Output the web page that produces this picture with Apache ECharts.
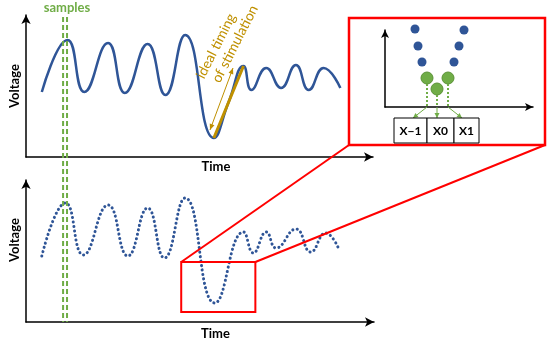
<!DOCTYPE html>
<html><head><meta charset="utf-8">
<script src="https://cdn.jsdelivr.net/npm/echarts@6/dist/echarts.min.js"></script>
<style>html,body{margin:0;padding:0;background:#fff}#c{width:550px;height:345px}</style>
</head><body><div id="c"></div>
<script>
// ---- DATA ----
// Top panel: continuous recorded signal (time units, voltage units)
const topTime    = [16, 42, 59, 83, 100, 123, 141, 161, 190, 205, 220, 228, 243, 258, 273, 286, 301, 318];
const topVoltage = [65, 117, 65, 114, 64, 113, 62, 122, 19, 55, 91, 67, 89, 69, 92, 67, 89, 69];
// Ideal stimulation window (rising edge after the big trough)
const stimTime    = [190, 205, 220];
const stimVoltage = [19, 55, 91];
// Bottom panel: sampled signal
const bottomTime    = [16, 40, 58, 83, 103, 123, 140, 161, 191, 220, 230, 243, 253, 273, 288, 303, 316];
const bottomVoltage = [66, 119, 67, 117, 66, 114, 64, 124, 19, 90, 69, 90, 74, 93, 70, 89, 74];
// Sampling instants (dashed green lines)
const sampleTimes = [37.5, 41.5];
// Zoom window on the bottom panel: [tStart, tEnd, vLow, vHigh]
const zoomWindow = [157, 232, 10, 60];
// Inset: samples around the trough
const insetBlueX  = [30, 33, 37, 79, 74, 69];
const insetBlueY  = [78, 61, 45, 77, 61, 45];
const insetGreenX = [42, 52, 63];
const insetGreenY = [29, 18, 29];
const binLabels   = ['X\u22121', 'X0', 'X1'];

// ---- STYLE ----
const BLUE = '#2F5597', GREEN = '#70AD47', GOLD = '#BF9000', RED = '#FF0000';
const FONT = 'Lato';
const zip = (a, b) => a.map((v, i) => [v, b[i]]);

function ax(gi, max, name, gap, pad, arrow) {
  return {
    gridIndex: gi, type: 'value', min: 0, max: max,
    name: name || '', nameLocation: 'middle', nameGap: gap || 0,
    nameTextStyle: {fontFamily: FONT, fontWeight: 'bold', fontSize: 13, color: '#000', padding: pad || 0},
    axisLine: {show: true, onZero: false, symbol: ['none', 'arrow'], symbolSize: arrow, lineStyle: {color: '#000', width: 1.5}},
    axisTick: {show: false}, axisLabel: {show: false}, splitLine: {show: false}
  };
}

const chart = echarts.init(document.getElementById('c'), null, {renderer: 'canvas'});
const option = {
  animation: false,
  backgroundColor: '#fff',
  grid: [
    {left: 22, top: 15, width: 351, height: 142},
    {left: 22, top: 180, width: 352, height: 142},
    {left: 385, top: 30, width: 148, height: 77}
  ],
  xAxis: [
    ax(0, 351, 'Time', 3, [0, 0, 0, 33], [7, 9]),
    ax(1, 352, 'Time', 5, [0, 0, 0, 31], [7, 9]),
    ax(2, 148, '', 0, 0, [6, 8])
  ],
  yAxis: [
    ax(0, 142, 'Voltage', 5, 0, [7, 9]),
    ax(1, 142, 'Voltage', 5, [0, 0, 0, 22], [7, 9]),
    ax(2, 77, '', 0, 0, [6, 8])
  ],
  series: [
    {type: 'line', xAxisIndex: 0, yAxisIndex: 0, data: zip(topTime, topVoltage), smooth: true,
     showSymbol: false, lineStyle: {color: BLUE, width: 2.5}, z: 2},
    {type: 'line', xAxisIndex: 0, yAxisIndex: 0, data: zip(stimTime, stimVoltage), smooth: true,
     showSymbol: false, lineStyle: {color: GOLD, width: 3}, z: 3},
    {type: 'line', xAxisIndex: 1, yAxisIndex: 1, data: zip(bottomTime, bottomVoltage), smooth: true,
     showSymbol: false, lineStyle: {color: BLUE, width: 3, type: [0.1, 4.4], cap: 'round'}, z: 2},
    {type: 'scatter', xAxisIndex: 2, yAxisIndex: 2, data: zip(insetBlueX, insetBlueY), clip: false,
     symbolSize: 9, itemStyle: {color: BLUE, opacity: 1}, z: 5},
    {type: 'scatter', xAxisIndex: 2, yAxisIndex: 2, data: zip(insetGreenX, insetGreenY), clip: false,
     symbolSize: 12, itemStyle: {color: GREEN, opacity: 1, borderColor: '#5B9237', borderWidth: 1}, z: 5}
  ]
};
chart.setOption(option);

// ---- ANNOTATIONS (positions derived from the axes where they refer to data) ----
const px = (gi, x, y) => chart.convertToPixel({gridIndex: gi}, [x, y]);
function arrowHead(x1, y1, x2, y2, len, w, color) {
  const a = Math.atan2(y2 - y1, x2 - x1);
  const bx = x2 - len * Math.cos(a), by = y2 - len * Math.sin(a);
  const nx = -Math.sin(a) * w / 2, ny = Math.cos(a) * w / 2;
  return {type: 'polygon', z: 100, shape: {points: [[x2, y2], [bx + nx, by + ny], [bx - nx, by - ny]]}, style: {fill: color}};
}
const line = (x1, y1, x2, y2, style) => ({type: 'line', z: 100, shape: {x1, y1, x2, y2}, style: Object.assign({fill: null}, style)});
const g = [];

// sample lines spanning both panels
sampleTimes.forEach(t => {
  const x = px(0, t, 0)[0];
  g.push(line(x, 17, x, 322, {stroke: GREEN, lineWidth: 2, lineDash: [5, 3]}));
});
g.push({type: 'text', z: 100, style: {text: 'samples', x: 67, y: 8, align: 'center', verticalAlign: 'middle',
  font: 'bold 13px ' + FONT, fill: GREEN}});

// gold double arrow + label
const ga = [210, 130, 233, 68];
g.push(line(ga[0], ga[1], ga[2], ga[3], {stroke: GOLD, lineWidth: 1}));
g.push(arrowHead(ga[2], ga[3], ga[0], ga[1], 6, 5, GOLD));
g.push(arrowHead(ga[0], ga[1], ga[2], ga[3], 6, 5, GOLD));
const rot = 63 * Math.PI / 180;
g.push({type: 'text', z: 100, x: 216, y: 46, rotation: rot,
  style: {text: 'ideal timing', x: 0, y: 0, align: 'center', verticalAlign: 'middle', font: '14px ' + FONT, fill: GOLD}});
g.push({type: 'text', z: 100, x: 235, y: 44, rotation: rot,
  style: {text: 'of stimulation', x: 0, y: 0, align: 'center', verticalAlign: 'middle', font: '14px ' + FONT, fill: GOLD}});

// zoom window on bottom panel
const zTL = px(1, zoomWindow[0], zoomWindow[3]);
const zBR = px(1, zoomWindow[1], zoomWindow[2]);
g.push({type: 'rect', z: 100, shape: {x: zTL[0], y: zTL[1], width: zBR[0] - zTL[0], height: zBR[1] - zTL[1]},
  style: {fill: null, stroke: RED, lineWidth: 2}});
// inset frame
const inset = {x: 349, y: 18, w: 196, h: 127};
g.push({type: 'rect', z: 100, shape: {x: inset.x, y: inset.y, width: inset.w, height: inset.h},
  style: {fill: null, stroke: RED, lineWidth: 2.5}});
g.push(line(zTL[0], zTL[1], inset.x, inset.y + inset.h, {stroke: RED, lineWidth: 2}));
g.push(line(zBR[0], zTL[1], inset.x + inset.w, inset.y + inset.h, {stroke: RED, lineWidth: 2}));

// inset: dotted drops from green samples, arrows to bins, bins
const binX = [394, 427, 454, 479], binTop = 118, binBot = 143;
const binTarget = [413, 437, 462];
insetGreenX.forEach((gx, i) => {
  const top = px(2, gx, insetGreenY[i]);
  const bot = px(2, gx, 0);
  g.push(line(top[0], top[1] + 6, bot[0], bot[1], {stroke: GREEN, lineWidth: 2, lineDash: [2, 2]}));
  g.push(line(bot[0], bot[1], binTarget[i], binTop, {stroke: GREEN, lineWidth: 1}));
  g.push(arrowHead(bot[0], bot[1], binTarget[i], binTop, 5, 5, GREEN));
});
binLabels.forEach((lab, i) => {
  g.push({type: 'rect', z: 100, shape: {x: binX[i], y: binTop, width: binX[i + 1] - binX[i], height: binBot - binTop},
    style: {fill: '#fff', stroke: '#000', lineWidth: 1}});
  g.push({type: 'text', z: 101, style: {text: lab, x: (binX[i] + binX[i + 1]) / 2, y: (binTop + binBot) / 2 + 1,
    align: 'center', verticalAlign: 'middle', font: 'bold 12px ' + FONT, fill: '#000'}});
});

chart.setOption({graphic: {elements: g}});
</script>
</body></html>
